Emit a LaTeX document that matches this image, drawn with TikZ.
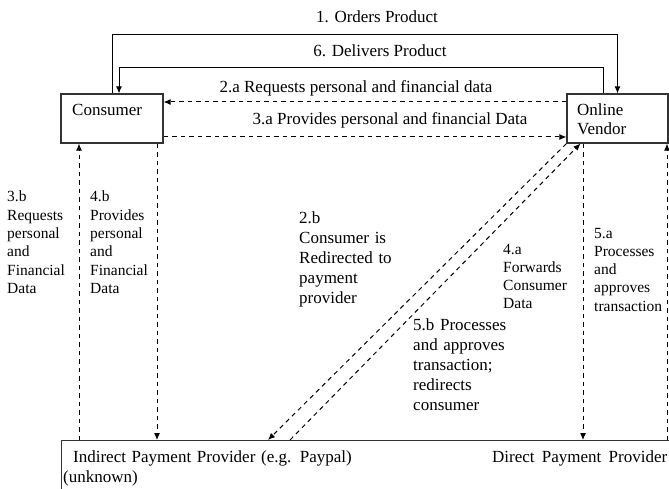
\documentclass[tikz,border=0pt]{standalone}
\usepackage{fontspec}
\setmainfont{Liberation Serif}
\usetikzlibrary{arrows.meta,positioning}
\tikzstyle{line} = [draw, line width=1pt, dash pattern=on 4.5pt off 4pt, -{Latex[length=7pt,width=6pt]}]
\tikzstyle{solidline} = [draw, line width=1pt, -{Latex[length=7pt,width=6pt]}]
\tikzstyle{party} = [rectangle, draw=black!80, line width=1.1pt, minimum width=102pt, minimum height=49pt, inner sep=0pt]
\tikzstyle{bigtext} = [inner sep=0pt, font=\fontsize{17}{20}\selectfont]
\tikzstyle{steptext} = [anchor=base west, inner sep=0pt, align=left, text width=90pt, font=\fontsize{15.5}{18.3}\selectfont]
\tikzstyle{longtext} = [anchor=base west, inner sep=0pt, align=left, text width=110pt, font=\fontsize{17}{20}\selectfont]

\begin{document}
\begin{tikzpicture}[x=1pt, y=-1pt, color=black]
	\useasboundingbox (0,0) rectangle (669,489);
	\clip (0,0) rectangle (669,489);
	
	\node [party] (consumer) at (112,118.5) {};
	\node [party, right of=consumer, node distance=505.5pt, minimum width=101pt] (vendor) {};
	\node [party, anchor=north west, minimum width=611pt, minimum height=60pt] (provider) at (61,440) {};
	
	\node [bigtext, anchor=base west] (consumertext) at (72,116) {Consumer};
	\node [bigtext, anchor=base west, align=left, text width=85pt] (vendortext) at (577,115.5) {Online\\[-1pt]Vendor};
	\node [bigtext, anchor=base west, align=left, text width=300pt] (indirect) at (63,462.5) {\hspace*{10pt}\makebox[280pt][s]{Indirect Payment Provider (e.g. Paypal)}\\(unknown)};
	\node [bigtext, anchor=base west] (direct) at (492,462.5) {\makebox[175pt][s]{Direct Payment Provider}};
	
	% consumer <-> vendor
	\coordinate (orders) at (0,35);
	\coordinate (delivers) at (0,68);
	\path [solidline] (consumer.north) -- (consumer.north |- orders) -| (vendor.north);
	\path [solidline] ([xshift=-14.5pt]vendor.north) -- ([xshift=-14.5pt]vendor.north |- delivers) -| ([xshift=7pt]consumer.north);
	\path [line] ([yshift=16.5pt]vendor.west) -- ([yshift=16.5pt]consumer.east);
	\path [line] ([yshift=-18.5pt]consumer.east) -- ([yshift=-18.5pt]vendor.west);
	\node [bigtext, anchor=base] (l1) at (377,23) {1. Orders Product};
	\node [bigtext, anchor=base] (l6) at (380,57) {6. Delivers Product};
	\node [bigtext, anchor=base] (l2a) at (356,93) {2.a Requests personal and financial data};
	\node [bigtext, anchor=base] (l3a) at (390,124.5) {3.a Provides personal and financial Data};
	
	% consumer <-> indirect provider
	\path [line] ([xshift=-33pt]consumer.south |- provider.north) -- ([xshift=-33pt]consumer.south);
	\path [line] ([xshift=45pt]consumer.south) -- ([xshift=45pt]consumer.south |- provider.north);
	\node [steptext] (l3b) at (7,202) {3.b\\Requests\\personal\\and\\Financial\\Data};
	\node [steptext] (l4b) at (90,202) {4.b\\Provides\\personal\\and\\Financial\\Data};
	
	% vendor <-> indirect provider
	\coordinate (redirect) at (268,440);
	\coordinate (approve) at (290,440);
	\path [line] (vendor.south west) -- (redirect);
	\path [line] (approve) -- ([xshift=14pt]vendor.south west);
	\node [longtext] (l2b) at (299,223) {2.b\\Consumer is\\Redirected to\\payment\\provider};
	\node [longtext] (l5b) at (413,330) {5.b Processes\\and approves\\transaction;\\redirects\\consumer};
	
	% vendor <-> direct provider
	\path [line] ([xshift=-34.5pt]vendor.south) -- ([xshift=-34.5pt]vendor.south |- provider.north);
	\path [line] ([xshift=49.5pt]vendor.south |- provider.north) -- ([xshift=49.5pt]vendor.south);
	\node [steptext] (l4a) at (503,254) {4.a\\Forwards\\Consumer\\Data};
	\node [steptext] (l5a) at (594,238) {5.a\\Processes\\and\\approves\\transaction};
\end{tikzpicture}
\end{document}
